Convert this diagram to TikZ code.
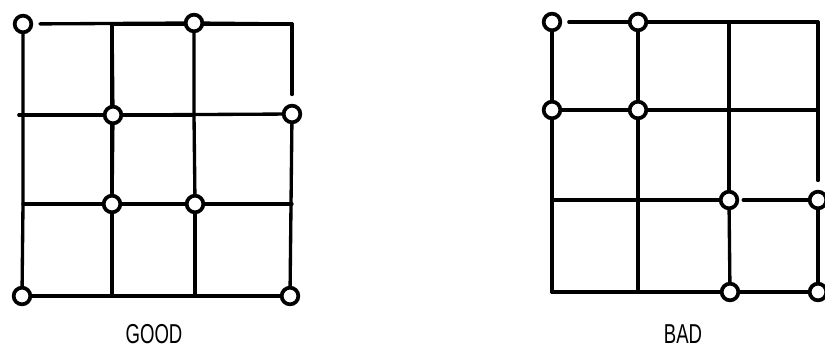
\documentclass[tikz,border=0pt]{standalone}
\usepackage{fontspec}
\newfontfamily\lblfont[FakeStretch=0.68]{Liberation Sans}
\begin{document}
\begin{tikzpicture}[x=0.75pt,y=-0.75pt,
  grid/.style={line width=2.5pt,line cap=round,line join=round},
  pin/.style={circle,draw,fill=white,line width=2.8pt,minimum size=12.5pt,inner sep=0pt},
  lbl/.style={font=\lblfont\fontsize{20.5}{22}\selectfont,inner sep=0pt}]
\useasboundingbox (0,0) rectangle (825,350);
% ---------- GOOD grid ----------
\coordinate (g12) at (112,24);
\coordinate (g14) at (292,24);
\coordinate (g20) at (19,115);
\coordinate (g21) at (23,115);
\coordinate (g23) at (194,115);
\coordinate (g31) at (23,204);
\coordinate (g34) at (292,204);
\coordinate (g42) at (112,295);
\coordinate (g43) at (195,295);
\draw[grid] (g12) -- (g14);
\draw[grid] (g20) -- (g23);
\draw[grid] (g12) -- (g42);
\node[pin] (a11) at (23,24) {};
\node[pin] (a13) at (194,23) {};
\node[pin] (a22) at (113,115) {};
\node[pin] (a24) at (292,114) {};
\node[pin] (a32) at (112,204) {};
\node[pin] (a33) at (195,204) {};
\node[pin] (a41) at (22,296) {};
\node[pin] (a44) at (290,296) {};
\draw[grid,shorten <=5pt] (a11) -- (a13);
\draw[grid] (a13) -- (g14);
\draw[grid,shorten >=7pt] (g14) -- (a24);
\draw[grid] (a24) -- (a44);
\draw[grid] (g20) -- (a22);
\draw[grid] (a22) -- (a24);
\draw[grid] (g31) -- (a32);
\draw[grid] (a32) -- (a33);
\draw[grid] (a33) -- (g34);
\draw[grid] (a41) -- (a44);
\draw[grid] (a11) -- (g21) -- (g31) -- (a41);
\draw[grid] (g12) -- (a22);
\draw[grid] (a22) -- (a32);
\draw[grid] (a32) -- (g42);
\draw[grid] (a13) -- (g23) -- (a33);
\draw[grid] (a33) -- (g43);
\node[lbl] (good) at (154,334) {GOOD};
% ---------- BAD grid ----------
\coordinate (h13) at (729,22);
\coordinate (h14) at (818,22);
\coordinate (h23) at (729,110);
\coordinate (h24) at (818,110);
\coordinate (h31) at (552,200);
\coordinate (h32) at (638,200);
\coordinate (h41) at (552,292);
\coordinate (h42) at (638,292);
\node[pin] (b11) at (552,22) {};
\node[pin] (b12) at (638,22) {};
\node[pin] (b21) at (552,110) {};
\node[pin] (b22) at (638,110) {};
\node[pin] (b33) at (729,200) {};
\node[pin] (b34) at (818,200) {};
\node[pin] (b43) at (730,292) {};
\node[pin] (b44) at (818,292) {};
\draw[grid,shorten <=5pt] (b11) -- (b12);
\draw[grid] (b12) -- (h13) -- (h14);
\draw[grid,shorten >=7pt] (h14) -- (b34);
\draw[grid] (b34) -- (b44);
\draw[grid] (b21) -- (b22);
\draw[grid] (b22) -- (h23) -- (h24);
\draw[grid] (h31) -- (h32) -- (b33);
\draw[grid,shorten <=3pt] (b33) -- (b34);
\draw[grid] (h41) -- (h42) -- (b43);
\draw[grid] (b43) -- (b44);
\draw[grid] (b11) -- (b21);
\draw[grid] (b21) -- (h31) -- (h41) -- (h42);
\draw[grid] (b12) -- (b22);
\draw[grid] (b22) -- (h32) -- (h42);
\draw[grid] (h13) -- (h23) -- (b33);
\draw[grid] (b33) -- (b43);
\node[lbl] (bad) at (683,334) {BAD};
\end{tikzpicture}
\end{document}
